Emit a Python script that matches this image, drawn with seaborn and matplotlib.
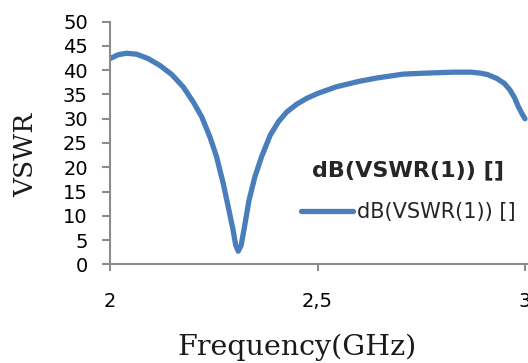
import matplotlib
matplotlib.use("Agg")
import matplotlib.pyplot as plt
import seaborn as sns
import pandas as pd

# Simulated VSWR sweep (dB) of the antenna over 2-3 GHz
freq_ghz = [2.000, 2.020, 2.040, 2.064, 2.092, 2.120, 2.149, 2.177, 2.201, 2.221,
            2.241, 2.257, 2.273, 2.285, 2.296, 2.303, 2.309, 2.316, 2.324, 2.335,
            2.349, 2.365, 2.386, 2.406, 2.426, 2.450, 2.474, 2.500, 2.546, 2.600,
            2.643, 2.707, 2.760, 2.827, 2.870, 2.892, 2.910, 2.932, 2.950, 2.964,
            2.975, 2.984, 2.993, 3.000]
vswr_db = [42.4, 43.2, 43.5, 43.3, 42.4, 41.0, 39.1, 36.5, 33.4, 30.4,
           26.2, 22.1, 16.6, 11.8, 7.3, 3.9, 2.7, 3.9, 7.7, 13.2,
           18.0, 22.1, 26.6, 29.4, 31.4, 33.0, 34.2, 35.2, 36.6, 37.7,
           38.4, 39.2, 39.4, 39.6, 39.6, 39.4, 39.1, 38.3, 37.3, 35.9,
           34.3, 32.5, 31.0, 30.0]
series_name = "dB(VSWR(1)) []"

x_ticks = [2.0, 2.5, 3.0]
x_tick_labels = ["2", "2,5", "3"]
y_ticks = list(range(0, 55, 5))

df = pd.DataFrame({"Frequency": freq_ghz, "VSWR": vswr_db, "series": series_name})

sns.set_theme(style="white")
plt.rcParams["font.family"] = ["DejaVu Sans"]

fig = plt.figure(figsize=(5.28, 3.63), dpi=100)
ax = fig.add_axes([110 / 528, 98.7 / 363, 418 / 528, 242.6 / 363])

sns.lineplot(data=df, x="Frequency", y="VSWR", hue="series",
             palette=["#4a7ebb"], linewidth=3.8, ax=ax, legend=True,
             solid_capstyle="round", solid_joinstyle="round")

ax.set_xlim(2.0, 3.0 + 3 / 415)
ax.set_ylim(0, 50)
ax.set_xticks(x_ticks)
ax.set_xticklabels(x_tick_labels)
ax.set_yticks(y_ticks)

for side in ("top", "right"):
    ax.spines[side].set_visible(False)
for side in ("left", "bottom"):
    ax.spines[side].set_color("#8c8c8c")
    ax.spines[side].set_linewidth(1.5)

ax.tick_params(axis="y", which="major", direction="out", length=6, width=1.5,
               color="#8c8c8c", labelsize=14, pad=10, labelcolor="black", left=True)
ax.tick_params(axis="x", which="major", direction="out", length=5, width=1.5,
               color="#8c8c8c", labelsize=14, pad=15, labelcolor="black", bottom=True)

ax.set_xlabel("Frequency(GHz)", family="DejaVu Serif", fontsize=20.5,
              color="#1a1a1a")
ax.xaxis.set_label_coords(0.447, -0.285)
ax.set_ylabel("VSWR", family="DejaVu Serif", fontsize=19,
              color="#1a1a1a")
ax.yaxis.set_label_coords(-0.172, 0.45)

leg = ax.legend(title=series_name, loc="center", bbox_to_anchor=(408 / 528, 1 - 191 / 363),
                bbox_transform=fig.transFigure, frameon=False, fontsize=15,
                handlelength=2.5, handletextpad=0.2, labelspacing=1.05,
                title_fontproperties={"weight": "bold", "size": 16})
for line in leg.get_lines():
    line.set_linewidth(3.8)
    line.set_solid_capstyle("round")

fig.savefig("out.png", dpi=100)
